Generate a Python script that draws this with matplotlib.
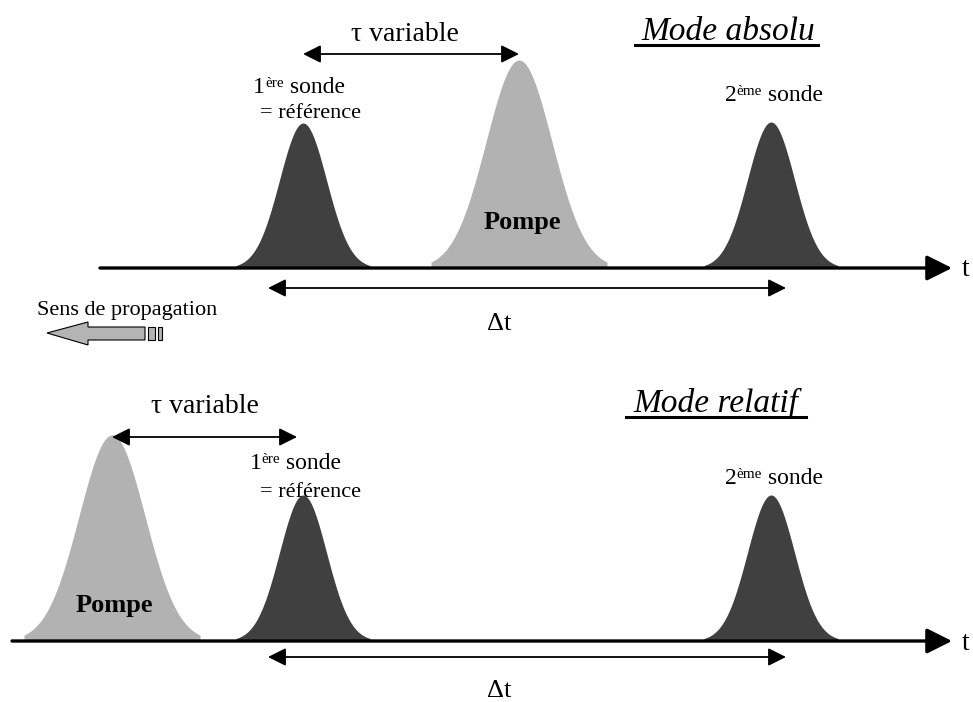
import numpy as np
import matplotlib
matplotlib.use("Agg")
import matplotlib.pyplot as plt
from matplotlib.patches import Polygon, Rectangle

plt.rcParams['font.family'] = ['Liberation Serif', 'DejaVu Serif']

# pulse data (pixel units): centre, peak y, half base width, sigma
top_base = 268
top_centers = [303, 519, 771]
top_peaks = [123, 60, 122]
top_kinds = ["sonde", "pompe", "sonde"]

bot_base = 641
bot_centers = [112, 303, 771]
bot_peaks = [435, 495, 495]
bot_kinds = ["pompe", "sonde", "sonde"]

half_width = {"sonde": 67, "pompe": 88}
sigma = {"sonde": 23.5, "pompe": 33.0}
colors = {"sonde": "#404040", "pompe": "#b2b2b2"}

fig = plt.figure(figsize=(9.73, 7.02), dpi=100)
ax = fig.add_axes([0, 0, 1, 1])
ax.set_xlim(0, 973)
ax.set_ylim(702, 0)
ax.axis("off")


def pulse(c, peak, base, kind):
    hw = half_width[kind]
    x = np.linspace(c - hw, c + hw, 300)
    h = base - peak
    y = base - h * np.exp(-(x - c) ** 2 / (2 * sigma[kind] ** 2))
    ax.fill_between(x, y, base, color=colors[kind], lw=0, zorder=2)


def darrow(x0, x1, y):
    ax.annotate("", xy=(x1, y), xytext=(x0, y),
                arrowprops=dict(arrowstyle="<|-|>,head_length=0.9,head_width=0.45",
                                mutation_scale=12, lw=1.3, color="black",
                                shrinkA=0, shrinkB=0))


def axis_line(x0, y):
    ax.annotate("", xy=(952, y), xytext=(x0, y),
                arrowprops=dict(arrowstyle="-|>,head_length=1.1,head_width=0.55",
                                mutation_scale=14, lw=2.4, color="black",
                                shrinkA=0, shrinkB=0), zorder=3)
    ax.text(962, y + 2, "t", fontsize=20, ha="left", va="center")


def sonde_label(x, y, num, sup):
    t1 = ax.text(x, y, num, fontsize=17, ha="left", va="baseline")
    s = ax.annotate(sup, xy=(1, 1), xycoords=t1, fontsize=11,
                    ha="left", va="top")
    ax.annotate(" sonde", xy=(1, 0), xycoords=(s, t1), fontsize=17,
                ha="left", va="bottom")


def title(x, y, txt, x0, x1):
    ax.text(x, y, txt, fontsize=24, style="italic", ha="center", va="baseline")
    ax.plot([x0, x1], [y + 5, y + 5], color="black", lw=2.2)


# top panel: mode absolu
for c, p, k in zip(top_centers, top_peaks, top_kinds):
    pulse(c, p, top_base, k)
axis_line(100, top_base)
darrow(top_centers[0], top_centers[1], 54)
ax.text(405, 41, "τ variable", fontsize=20, ha="center", va="baseline")
darrow(268, 786, 288)
ax.text(499, 330, "Δt", fontsize=19, ha="center", va="baseline")
sonde_label(253, 93, "1", "ère")
ax.text(310, 118, "= référence", fontsize=16, ha="center", va="baseline")
sonde_label(725, 101, "2", "ème")
ax.text(522, 229, "Pompe", fontsize=19, weight="bold", ha="center", va="baseline")
title(728, 40, "Mode absolu", 635, 818)

# sens de propagation
ax.text(127, 315, "Sens de propagation", fontsize=16, ha="center", va="baseline")
arrow_pts = [(47, 333), (88, 322), (88, 327), (145, 327), (145, 340),
             (88, 340), (88, 345)]
ax.add_patch(Polygon(arrow_pts, closed=True, fc="#b4b4b4", ec="black", lw=0.8))
ax.add_patch(Rectangle((148, 327), 7, 13, fc="#b4b4b4", ec="black", lw=0.8))
ax.add_patch(Rectangle((158, 327), 4, 13, fc="#b4b4b4", ec="black", lw=0.8))

# bottom panel: mode relatif
for c, p, k in zip(bot_centers, bot_peaks, bot_kinds):
    pulse(c, p, bot_base, k)
axis_line(12, bot_base)
darrow(bot_centers[0], 297, 437)
ax.text(205, 413, "τ variable", fontsize=20, ha="center", va="baseline")
darrow(268, 786, 657)
ax.text(499, 697, "Δt", fontsize=19, ha="center", va="baseline")
sonde_label(250, 469, "1", "ère")
ax.text(310, 497, "= référence", fontsize=16, ha="center", va="baseline")
sonde_label(725, 484, "2", "ème")
ax.text(114, 612, "Pompe", fontsize=19, weight="bold", ha="center", va="baseline")
title(716, 412, "Mode relatif", 626, 806)

fig.savefig("out.png", dpi=100)
